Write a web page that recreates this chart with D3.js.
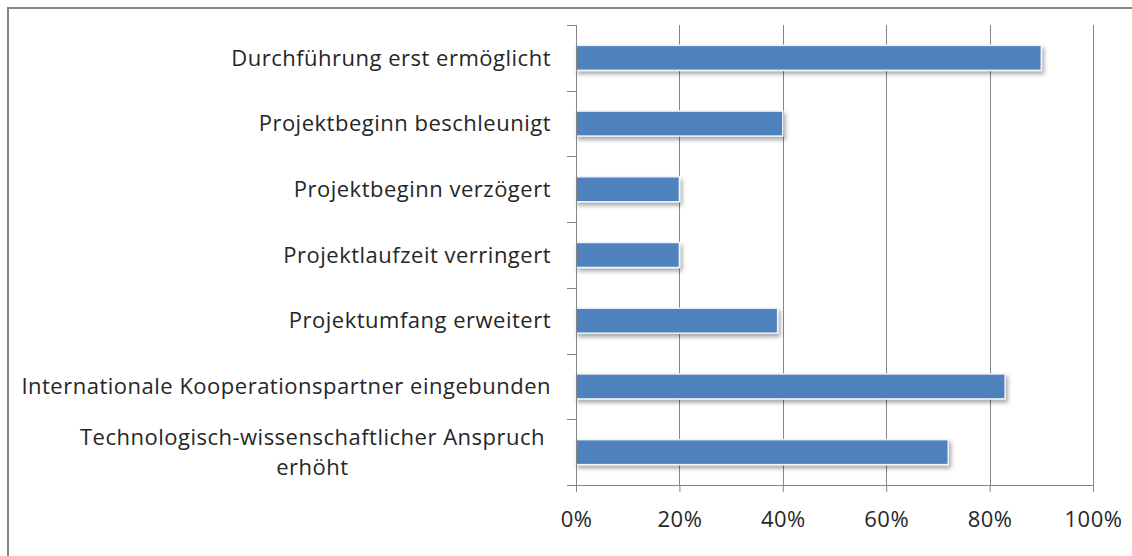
<!DOCTYPE html>
<html>
<head>
<meta charset="utf-8">
<script src="https://cdn.jsdelivr.net/npm/d3@7"></script>
<style>
  body { margin: 0; background: #fff; }
  text { font-family: "Open Sans", "Noto Sans", sans-serif; fill: #262626; }
</style>
</head>
<body>
<div class="chart"></div>
<script>
var svgWidth = 1132;
var svgHeight = 556;

var margin = { top: 25, right: 39, bottom: 71, left: 576 };
var width = svgWidth - margin.left - margin.right;
var height = svgHeight - margin.top - margin.bottom;

// data
var categories = [
  "Durchführung erst ermöglicht",
  "Projektbeginn beschleunigt",
  "Projektbeginn verzögert",
  "Projektlaufzeit verringert",
  "Projektumfang erweitert",
  "Internationale Kooperationspartner eingebunden",
  "Technologisch-wissenschaftlicher Anspruch erhöht"
];
var values = [0.90, 0.40, 0.20, 0.20, 0.39, 0.83, 0.72];
var xTicks = [0, 0.2, 0.4, 0.6, 0.8, 1.0];

var svg = d3.select(".chart")
  .append("svg")
  .attr("width", svgWidth)
  .attr("height", svgHeight);

// shadow like the office chart
var defs = svg.append("defs");
var filter = defs.append("filter").attr("id", "shadow")
  .attr("x", "-5%").attr("y", "-30%").attr("width", "115%").attr("height", "180%");
filter.append("feDropShadow")
  .attr("dx", 2).attr("dy", 3).attr("stdDeviation", 2)
  .attr("flood-color", "#000").attr("flood-opacity", 0.35);

// outer frame
svg.append("rect")
  .attr("x", 8).attr("y", 8)
  .attr("width", svgWidth + 20).attr("height", svgHeight + 20)
  .attr("fill", "none").attr("stroke", "#868686").attr("stroke-width", 2);

var chartGroup = svg.append("g").attr("transform", `translate(${margin.left}, ${margin.top})`);

var xScale = d3.scaleLinear().domain([0, 1]).range([0, width]);
var yScale = d3.scaleBand().domain(categories).range([0, height]).paddingInner(0.62).paddingOuter(0.31);
var yBand = d3.scaleBand().domain(categories).range([0, height]);

// gridlines
chartGroup.selectAll(".grid")
  .data(xTicks.slice(1))
  .enter()
  .append("line")
  .attr("x1", d => Math.round(xScale(d)) + 0.5)
  .attr("x2", d => Math.round(xScale(d)) + 0.5)
  .attr("y1", 0)
  .attr("y2", height)
  .attr("stroke", "#868686")
  .attr("stroke-width", 1);

// bars
chartGroup.selectAll(".bar")
  .data(values)
  .enter()
  .append("rect")
  .attr("x", 0)
  .attr("y", (d, i) => yScale(categories[i]))
  .attr("width", d => xScale(d))
  .attr("height", yScale.bandwidth())
  .attr("fill", "#4f81bd")
  .attr("stroke", "#eef3fa")
  .attr("stroke-width", 1.5)
  .attr("filter", "url(#shadow)");

// x axis
var xaxis = d3.axisBottom(xScale)
  .tickValues(xTicks)
  .tickFormat(d3.format(".0%"))
  .tickSize(7)
  .tickPadding(19);
var gx = chartGroup.append("g").attr("transform", `translate(0, ${height})`).call(xaxis);
gx.select(".domain").attr("stroke", "#868686");
gx.selectAll(".tick line").attr("stroke", "#868686");
gx.selectAll(".tick text").attr("font-size", 22).attr("fill", "#262626")
  .style("letter-spacing", "0.5px")
  .style("font-family", "'Open Sans', sans-serif");

// y axis line and ticks at band edges
chartGroup.append("line")
  .attr("x1", 0.5).attr("x2", 0.5).attr("y1", 0).attr("y2", height)
  .attr("stroke", "#868686");
var edges = categories.map(c => yBand(c)).concat([height]);
chartGroup.selectAll(".ytick")
  .data(edges)
  .enter()
  .append("line")
  .attr("x1", -9).attr("x2", 0)
  .attr("y1", d => Math.round(d) + 0.5)
  .attr("y2", d => Math.round(d) + 0.5)
  .attr("stroke", "#868686");

// category labels
var labelRight = -25;
var labels = chartGroup.selectAll(".label")
  .data(categories)
  .enter()
  .append("text")
  .attr("font-size", 22)
  .style("letter-spacing", "0.5px")
  .attr("text-anchor", "end")
  .attr("x", labelRight)
  .attr("y", d => yBand(d) + yBand.bandwidth() / 2)
  .attr("dy", "0.35em")
  .text(d => d);

// the long last label wraps onto two centred lines
labels.filter((d, i) => i === categories.length - 1).each(function(d) {
  var t = d3.select(this);
  var line1 = "Technologisch-wissenschaftlicher Anspruch";
  var line2 = "erhöht";
  t.text(line1);
  var w = this.getComputedTextLength();
  var cx = labelRight - 6 - w / 2;
  var cy = yBand(d) + yBand.bandwidth() / 2;
  t.text(null).attr("text-anchor", "middle");
  t.append("tspan").attr("x", cx).attr("y", cy - 15).attr("dy", "0.35em").text(line1);
  t.append("tspan").attr("x", cx).attr("y", cy + 15).attr("dy", "0.35em").text(line2);
});
</script>
</body>
</html>
